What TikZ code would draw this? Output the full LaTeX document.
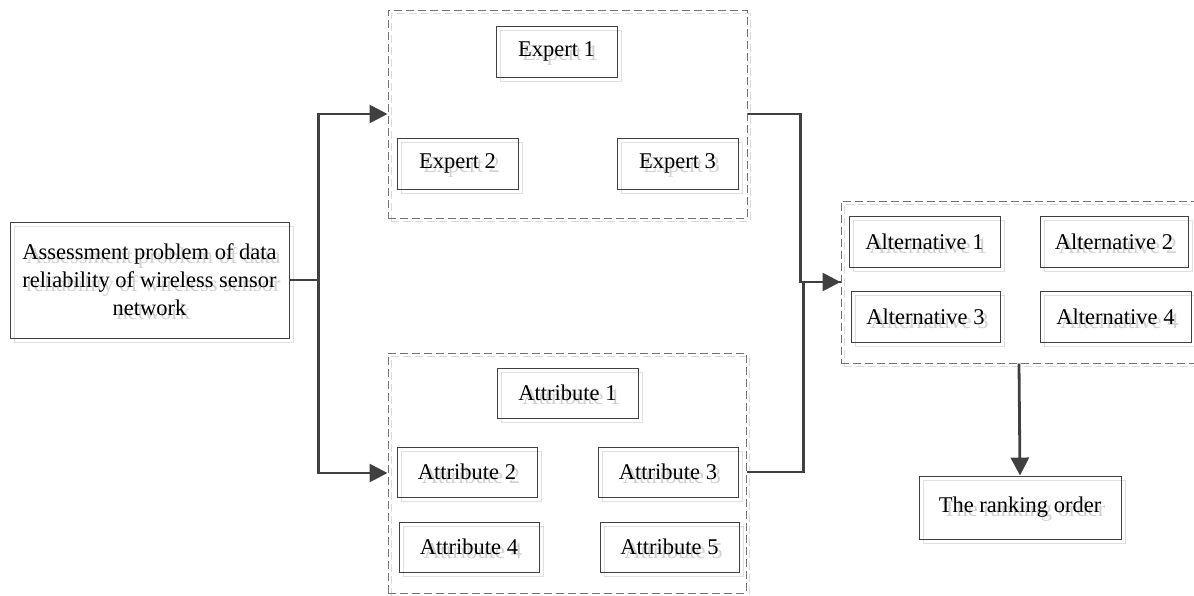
\documentclass[tikz,border=0pt]{standalone}
\usepackage{fontspec}
\setmainfont{Liberation Serif}
\usetikzlibrary{arrows.meta}
\tikzset{
  box/.style={draw=black!75, line width=0.9pt, fill=none, rectangle, inner sep=0pt, align=center, font=\fontsize{22.5}{28}\selectfont, text=black},
  shadowbox/.style={draw=black!12, line width=0.9pt, rectangle, inner sep=0pt, align=center, font=\fontsize{22.5}{28}\selectfont, text=black!18},
  grp/.style={draw=black!55, line width=1pt, dash pattern=on 8pt off 4pt, rectangle, inner sep=0pt},
  grpshadow/.style={draw=black!15, line width=1pt, dash pattern=on 8pt off 4pt, rectangle, inner sep=0pt},
  conn/.style={draw=black!75, line width=2.8pt, -{Triangle[length=18pt,width=18pt]}},
  connplain/.style={draw=black!75, line width=2.8pt},
}
\newcommand\mybx[6]{%
  \node[shadowbox, minimum width=#4pt, minimum height=#5pt] at (#2+4,#3+4) {#6};
  \node[box, minimum width=#4pt, minimum height=#5pt] (#1) at (#2,#3) {#6};}
\newcommand\mygrp[5]{%
  \node[grpshadow, minimum width=#4pt, minimum height=#5pt] at (#2+3,#3+3) {};
  \node[grp, minimum width=#4pt, minimum height=#5pt] (#1) at (#2,#3) {};}
\begin{document}
\begin{tikzpicture}[x=1pt,y=-1pt]
\useasboundingbox (0,0) rectangle (1194,595);
% groups
\mygrp{expgrp}{567.5}{114}{359}{208}
\mygrp{attgrp}{567}{473}{358}{240}
\mygrp{altgrp}{1019}{282}{356}{162}
% boxes
\mybx{main}{149.5}{280}{279}{116}{Assessment problem of data\\reliability of wireless sensor\\network}
\mybx{e1}{556.5}{51.5}{121}{51}{Expert 1}
\mybx{e2}{457.5}{163.5}{121}{51}{Expert 2}
\mybx{e3}{677.5}{163.5}{121}{51}{Expert 3}
\mybx{a1}{567.5}{393}{141}{50}{Attribute 1}
\mybx{a2}{467}{472}{140}{50}{Attribute 2}
\mybx{a3}{668}{472}{140}{50}{Attribute 3}
\mybx{a4}{469}{547}{140}{50}{Attribute 4}
\mybx{a5}{669.5}{547}{139}{50}{Attribute 5}
\mybx{al1}{924.5}{241.5}{151}{51}{Alternative 1}
\mybx{al2}{1114}{241.5}{148}{51}{Alternative 2}
\mybx{al3}{925.5}{316.5}{149}{51}{Alternative 3}
\mybx{al4}{1115.5}{316.5}{151}{51}{Alternative 4}
\mybx{rank}{1020}{507.5}{202}{63}{The ranking order}
% connectors
\draw[conn] (main.east) -- ++(29,0) |- (expgrp.west);
\draw[conn] (main.east) -- ++(29,0) |- (attgrp.west);
\draw[connplain] (attgrp.east |- a3.east) -- ++(57,0) |- (altgrp.west);
\draw[conn] (expgrp.east) -- ++(53,0) |- (altgrp.west);
\draw[conn] (altgrp.south) -- (rank.north);
\end{tikzpicture}
\end{document}
